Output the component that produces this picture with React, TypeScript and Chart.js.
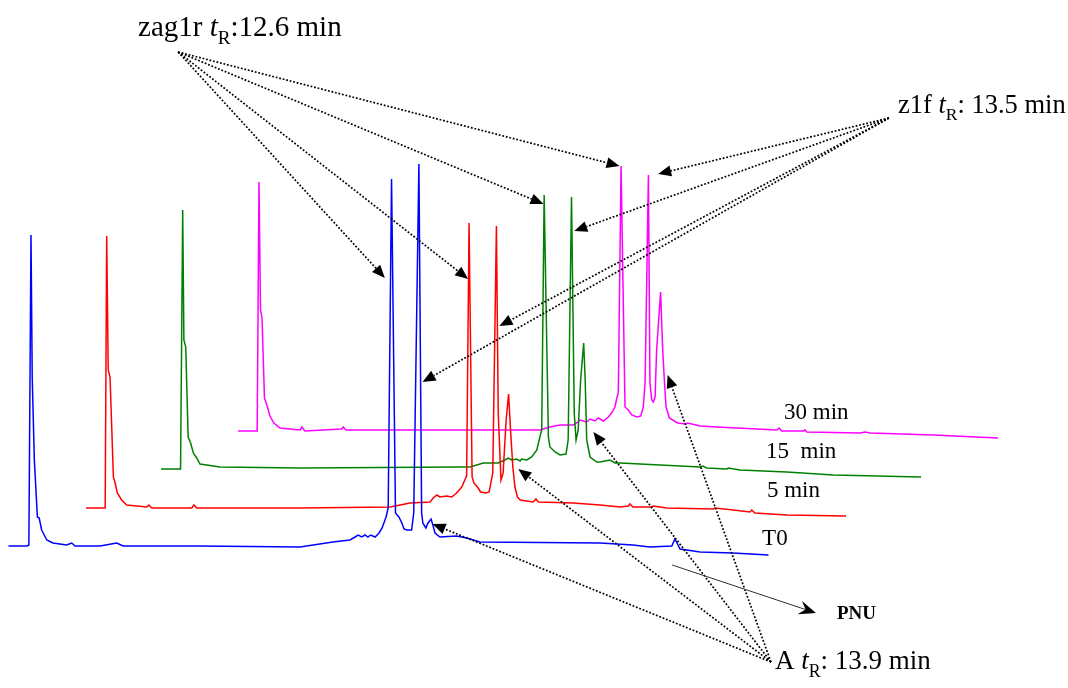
import { useEffect, useRef } from "react";
import { Chart, registerables } from "chart.js";

Chart.register(...registerables);

// Chromatograms of the incubation series: x = retention time (min), y = detector signal (mAU)
const traceNames = ["T0", "5 min", "15  min", "30 min"];
const traceColors = ["#0000ff", "#ff0000", "#008000", "#ff00ff"];

// Waterfall offsets that stack the runs diagonally
const timeOffsets = [0, 2.55, 5.02, 7.55];
const signalOffsets = [0, 38, 77, 115];

// Retention times of the labelled compounds
const tZag1r = 12.6;
const tZ1f = 13.5;
const tA = 13.9;

const t0Time = [0, 0.61, 0.67, 0.74, 0.78, 0.85, 0.95, 1.01, 1.09, 1.26, 1.46, 1.91, 2.08, 2.19, 3.01, 3.56, 3.77, 6.3, 9.59, 10.67, 11.23, 11.4, 11.5, 11.62, 11.73, 11.82, 11.91, 12.06, 12.19, 12.29, 12.42, 12.49, tZag1r, 12.73, 12.84, 12.94, 13.01, 13.11, 13.26, 13.33, tZ1f, 13.59, 13.63, 13.73, 13.8, tA, 13.96, 14.03, 14.19, 14.74, 15.07, 15.51, 19.46, 20.54, 21.1, 21.82, 21.92, 21.99, 22.09, 22.75, 23.83, 25.0];
const t0Signal = [0, 0, 1, 311, 169, 86, 29, 28, 16, 6, 3, 1, 3, 0, 0, 3, 0, 0, -1, 4, 6, 9, 11, 9, 11, 9, 11, 9, 13, 18, 29, 38, 367, 33, 29, 23, 17, 16, 16, 33, 382, 33, 23, 18, 23, 27, 21, 13, 9, 10, 8, 4, 3, 1, -1, 0, 7, 3, -3, -6, -7, -9];

const min5Time = [0, 0.63, 0.68, 0.73, 0.79, 0.9, 0.95, 1.03, 1.17, 1.34, 2.0, 2.07, 2.16, 3.48, 3.55, 3.64, 7.04, 10.0, 10.33, 10.66, 11.32, 11.42, 11.54, 11.64, 11.86, 12.03, 12.19, 12.36, 12.46, 12.52, tZag1r, 12.7, 12.76, 12.9, 12.98, 13.15, 13.26, 13.38, tZ1f, 13.56, 13.65, 13.72, 13.82, tA, 13.97, 14.04, 14.11, 14.19, 14.28, 14.71, 14.8, 14.88, 16.03, 16.91, 17.57, 17.84, 17.89, 17.99, 18.61, 18.66, 19.1, 20.64, 20.69, 21.29, 21.84, 21.9, 22.0, 23.05, 25.0];
const min5Signal = [0, 0, 272, 138, 131, 31, 26, 15, 8, 3, 1, 3, 0, 0, 3, 0, 0, 1, 3, 5, 6, 10, 13, 11, 12, 11, 15, 21, 28, 32, 285, 31, 25, 20, 16, 15, 16, 35, 282, 95, 28, 35, 88, 114, 75, 41, 21, 11, 8, 6, 9, 6, 5, 3, 1, 2, 4, 1, 1, 2, 0, -1, 0, -2, -4, -2, -5, -7, -8];

const min15Time = [0, 0.64, 0.71, 0.75, 0.81, 0.89, 0.97, 1.06, 1.17, 1.28, 1.94, 4.57, 9.83, 10.16, 10.38, 10.6, 11.09, 11.31, 11.42, 11.53, 11.7, 11.81, 11.86, 12.03, 12.19, 12.36, 12.46, 12.52, tZag1r, 12.74, 12.79, 12.96, 13.12, 13.32, 13.39, tZ1f, 13.59, 13.65, 13.72, 13.8, tA, 13.95, 14.0, 14.11, 14.33, 14.44, 14.77, 14.93, 15.1, 17.73, 17.82, 17.95, 18.61, 18.66, 19.04, 20.58, 22.11, 25.0];
const min15Signal = [0, 0, 259, 129, 122, 32, 26, 16, 11, 5, 2, 1, 2, 2, 4, 6, 6, 9, 11, 9, 10, 8, 10, 9, 12, 19, 32, 39, 274, 32, 22, 17, 14, 15, 29, 272, 56, 29, 39, 89, 126, 89, 29, 12, 7, 7, 9, 6, 6, 2, 3, 1, 0, 1, -1, -3, -6, -8];

const min30Time = [0, 0.63, 0.69, 0.74, 0.79, 0.87, 0.95, 1.05, 1.18, 1.38, 2.04, 2.1, 2.2, 3.41, 3.46, 3.55, 7.3, 9.93, 10.26, 10.59, 11.03, 11.14, 11.25, 11.36, 11.47, 11.58, 11.74, 11.85, 12.02, 12.18, 12.29, 12.4, 12.46, 12.51, tZag1r, 12.73, 12.84, 12.95, 13.12, 13.25, 13.33, 13.39, tZ1f, 13.55, 13.61, 13.66, 13.72, 13.77, tA, 13.97, 14.03, 14.08, 14.19, 14.46, 14.74, 14.79, 15.2, 15.75, 17.72, 17.8, 17.88, 18.6, 18.65, 18.71, 20.46, 20.63, 20.79, 22.87, 25.0];
const min30Signal = [0, 0, 249, 121, 113, 33, 26, 15, 8, 3, 1, 4, 0, 2, 4, 1, 1, 1, 4, 6, 6, 8, 11, 10, 9, 12, 10, 13, 10, 14, 18, 24, 33, 38, 265, 24, 21, 16, 14, 15, 24, 48, 256, 48, 31, 29, 34, 81, 139, 81, 48, 24, 13, 8, 7, 8, 5, 4, 1, 3, 0, 0, 1, -1, -2, -1, -2, -4, -7];

const traceTimes = [t0Time, min5Time, min15Time, min30Time];
const traceSignals = [t0Signal, min5Signal, min15Signal, min30Signal];

const WIDTH = 1068;
const HEIGHT = 688;
const SERIF = '"Liberation Serif", "Times New Roman", serif';

type Part = { text: string; italic?: boolean; sub?: boolean; bold?: boolean };

// Callouts: label position in plot units, arrow origin, and targets given as [run, time, signal]
const callouts: {
  parts: Part[];
  size: number;
  at: [number, number];
  from: [number, number];
  targets: [number, number, number][];
}[] = [
  {
    parts: [{ text: "zag1r " }, { text: "t", italic: true }, { text: "R", sub: true }, { text: ":12.6 min" }],
    size: 29,
    at: [4.26, 510],
    from: [5.58, 494],
    targets: [[0, 12.38, 268], [1, 12.57, 229], [2, 12.58, 265], [3, 12.55, 265]],
  },
  {
    parts: [{ text: "z1f " }, { text: "t", italic: true }, { text: "R", sub: true }, { text: ": 13.5 min" }],
    size: 26.5,
    at: [29.26, 433],
    from: [28.96, 428],
    targets: [[3, 13.82, 257], [2, 13.59, 238], [1, 13.6, 182], [0, 13.62, 164]],
  },
  {
    parts: [{ text: "A " }, { text: "t", italic: true }, { text: "R", sub: true }, { text: ": 13.9 min" }],
    size: 27,
    at: [25.21, -123],
    from: [25.08, -116],
    targets: [[0, 13.95, 22], [1, 14.22, 39], [2, 14.22, 37], [3, 14.13, 56]],
  },
];

const runLabelPos: [number, number][] = [[24.79, 1], [24.95, 49], [24.92, 88], [25.51, 127]];

const pnuLabel = { text: "PNU", at: [27.25, -73] as [number, number] };
const pnuArrow = { from: [21.83, -19] as [number, number], to: [26.56, -67] as [number, number] };

function drawRich(ctx: CanvasRenderingContext2D, x: number, y: number, size: number, parts: Part[]) {
  let cx = x;
  ctx.textBaseline = "alphabetic";
  ctx.textAlign = "left";
  for (const p of parts) {
    const s = p.sub ? size * 0.66 : size;
    ctx.font = `${p.italic ? "italic " : ""}${p.bold ? "bold " : ""}${s}px ${SERIF}`;
    ctx.fillText(p.text, cx, y + (p.sub ? size * 0.28 : 0));
    cx += ctx.measureText(p.text).width;
  }
}

function dottedArrow(ctx: CanvasRenderingContext2D, x0: number, y0: number, x1: number, y1: number) {
  const a = Math.atan2(y1 - y0, x1 - x0);
  const L = 13;
  const W = 5.5;
  const bx = x1 - L * Math.cos(a);
  const by = y1 - L * Math.sin(a);
  ctx.save();
  ctx.strokeStyle = "#000";
  ctx.lineWidth = 1.7;
  ctx.setLineDash([1.8, 1.8]);
  ctx.beginPath();
  ctx.moveTo(x0, y0);
  ctx.lineTo(bx, by);
  ctx.stroke();
  ctx.setLineDash([]);
  ctx.fillStyle = "#000";
  ctx.beginPath();
  ctx.moveTo(x1, y1);
  ctx.lineTo(bx + W * Math.sin(a), by - W * Math.cos(a));
  ctx.lineTo(bx - W * Math.sin(a), by + W * Math.cos(a));
  ctx.closePath();
  ctx.fill();
  ctx.restore();
}

function solidArrow(ctx: CanvasRenderingContext2D, x0: number, y0: number, x1: number, y1: number) {
  const a = Math.atan2(y1 - y0, x1 - x0);
  const L = 17;
  const W = 7;
  const notch = 11;
  const cos = Math.cos(a);
  const sin = Math.sin(a);
  ctx.save();
  ctx.strokeStyle = "#333";
  ctx.lineWidth = 1;
  ctx.beginPath();
  ctx.moveTo(x0, y0);
  ctx.lineTo(x1 - notch * cos, y1 - notch * sin);
  ctx.stroke();
  ctx.fillStyle = "#000";
  ctx.beginPath();
  ctx.moveTo(x1, y1);
  ctx.lineTo(x1 - L * cos + W * sin, y1 - L * sin - W * cos);
  ctx.lineTo(x1 - notch * cos, y1 - notch * sin);
  ctx.lineTo(x1 - L * cos - W * sin, y1 - L * sin + W * cos);
  ctx.closePath();
  ctx.fill();
  ctx.restore();
}

const calloutPlugin = {
  id: "callouts",
  afterDatasetsDraw(chart: Chart) {
    const ctx = chart.ctx;
    const xs = chart.scales.x;
    const ys = chart.scales.y;
    const px = (v: number) => xs.getPixelForValue(v);
    const py = (v: number) => ys.getPixelForValue(v);

    ctx.save();
    ctx.fillStyle = "#000";

    for (const c of callouts) {
      const ox = px(c.from[0]);
      const oy = py(c.from[1]);
      for (const [run, t, s] of c.targets) {
        dottedArrow(ctx, ox, oy, px(t + timeOffsets[run]), py(s + signalOffsets[run]));
      }
      ctx.fillStyle = "#000";
      drawRich(ctx, px(c.at[0]), py(c.at[1]), c.size, c.parts);
    }

    solidArrow(ctx, px(pnuArrow.from[0]), py(pnuArrow.from[1]), px(pnuArrow.to[0]), py(pnuArrow.to[1]));
    ctx.fillStyle = "#000";
    drawRich(ctx, px(pnuLabel.at[0]), py(pnuLabel.at[1]), 19, [{ text: pnuLabel.text, bold: true }]);

    traceNames.forEach((name, i) => {
      drawRich(ctx, px(runLabelPos[i][0]), py(runLabelPos[i][1]), 23, [{ text: name }]);
    });
    ctx.restore();
  },
};

export default function App() {
  const ref = useRef<HTMLCanvasElement>(null);

  useEffect(() => {
    const datasets = traceNames.map((name, i) => ({
      label: name,
      data: traceTimes[i].map((t, k) => ({
        x: t + timeOffsets[i],
        y: traceSignals[i][k] + signalOffsets[i],
      })),
      showLine: true,
      borderColor: traceColors[i],
      backgroundColor: traceColors[i],
      borderWidth: 1.5,
      pointRadius: 0,
      tension: 0,
      fill: false,
    }));

    const chart = new Chart(ref.current as HTMLCanvasElement, {
      type: "scatter",
      data: { datasets },
      options: {
        responsive: false,
        animation: false,
        events: [],
        layout: { padding: 0 },
        plugins: {
          legend: { display: false },
          tooltip: { enabled: false },
        },
        scales: {
          x: { type: "linear", display: false, min: -8.5 / 30.4, max: (WIDTH - 8.5) / 30.4 },
          y: { type: "linear", display: false, min: 546 - HEIGHT, max: 546 },
        },
      },
      plugins: [calloutPlugin],
    });
    return () => chart.destroy();
  }, []);

  return (
    <div style={{ position: "absolute", left: 0, top: 0, width: WIDTH, height: HEIGHT, background: "#fff" }}>
      <canvas ref={ref} width={WIDTH} height={HEIGHT} style={{ display: "block" }} />
    </div>
  );
}
